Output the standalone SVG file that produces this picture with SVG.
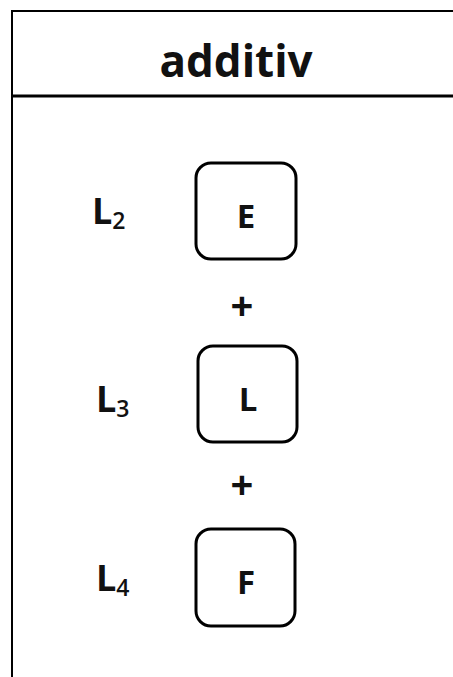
<svg xmlns="http://www.w3.org/2000/svg" width="453" height="677" viewBox="0 0 453 677">
  <style>
    .frame { fill: none; stroke: #000; }
    .box { fill: #fff; stroke: #000; stroke-width: 3; }
    .txt { font-family: "Open Sans", "Liberation Sans", sans-serif; font-weight: bold; fill: #111; }
    .title { font-size: 44px; }
    .lbl { font-size: 36px; }
    .sub { font-size: 23px; font-weight: 600; }
    .letter { font-size: 33px; text-anchor: middle; }
    .plus { font-size: 40px; text-anchor: middle; }
  </style>
  <rect width="453" height="677" fill="#fff"/>
  <!-- table frame with header -->
  <g id="frame">
    <path class="frame" stroke-width="2" d="M12,690 V11 H460"/>
    <line class="frame" stroke-width="3" x1="12" y1="96" x2="460" y2="96"/>
    <text class="txt title" x="236" y="77" text-anchor="middle">additiv</text>
  </g>
  <!-- level labels -->
  <g id="label-L2"><text class="txt lbl" x="92" y="224">L<tspan class="sub" dy="5">2</tspan></text></g>
  <g id="label-L3"><text class="txt lbl" x="96" y="412">L<tspan class="sub" dy="5">3</tspan></text></g>
  <g id="label-L4"><text class="txt lbl" x="96" y="591">L<tspan class="sub" dy="5">4</tspan></text></g>
  <!-- blocks -->
  <g id="node-E">
    <rect class="box" x="196" y="163" width="100" height="96" rx="15"/>
    <text class="txt letter" x="246" y="228">E</text>
  </g>
  <g id="node-L">
    <rect class="box" x="198" y="346" width="99" height="96" rx="15"/>
    <text class="txt letter" x="248" y="411">L</text>
  </g>
  <g id="node-F">
    <rect class="box" x="196" y="529" width="99" height="97" rx="15"/>
    <text class="txt letter" x="246" y="594">F</text>
  </g>
  <!-- operators between blocks -->
  <g id="connectors">
    <text class="txt plus" x="242" y="320">+</text>
    <text class="txt plus" x="242" y="499">+</text>
  </g>
</svg>
